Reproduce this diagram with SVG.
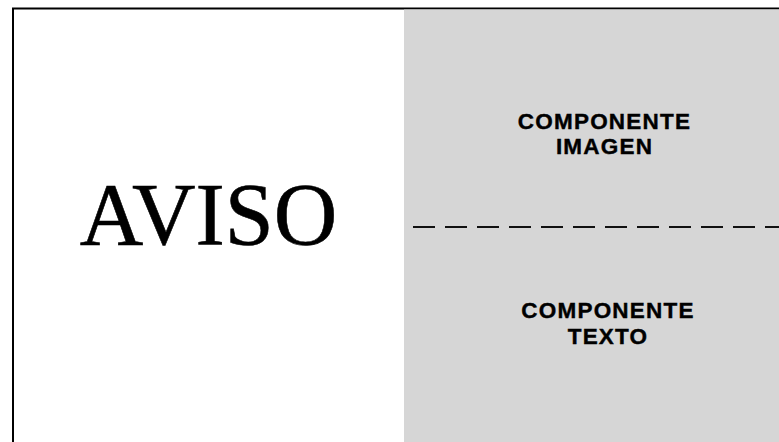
<svg xmlns="http://www.w3.org/2000/svg" width="779" height="442" viewBox="0 0 779 442">
  <style>
    .frame { fill: #ffffff; stroke: #000000; stroke-width: 2; }
    .panel { fill: #d6d6d6; stroke: none; }
    .divider { stroke: #111111; stroke-width: 2; stroke-dasharray: 22 10; fill: none; }
    .label { font-family: "Liberation Sans", Arial, Helvetica, sans-serif; font-weight: bold; font-size: 22.5px; letter-spacing: 1.2px; fill: #000000; text-anchor: middle; stroke: #000000; stroke-width: 0.4; }
    .title { font-family: "Liberation Serif", "Times New Roman", serif; font-size: 88px; fill: #000000; text-anchor: middle; stroke: #000000; stroke-width: 0.6; }
  </style>
  <rect width="779" height="442" fill="#ffffff"/>
  <g id="aviso">
    <rect class="frame" x="13" y="8.5" width="800" height="460"/>
    <text class="title" x="208.5" y="244">AVISO</text>
  </g>
  <g id="panel">
    <rect class="panel" x="404" y="9.5" width="375" height="432.5"/>
  </g>
  <g id="componente-imagen">
    <text class="label"><tspan x="604.5" y="128.5">COMPONENTE</tspan><tspan x="604.5" y="154">IMAGEN</tspan></text>
  </g>
  <g id="connectors">
    <line class="divider" x1="413" y1="227" x2="779" y2="227"/>
  </g>
  <g id="componente-texto">
    <text class="label"><tspan x="608" y="318">COMPONENTE</tspan><tspan x="608" y="343.5">TEXTO</tspan></text>
  </g>
</svg>
